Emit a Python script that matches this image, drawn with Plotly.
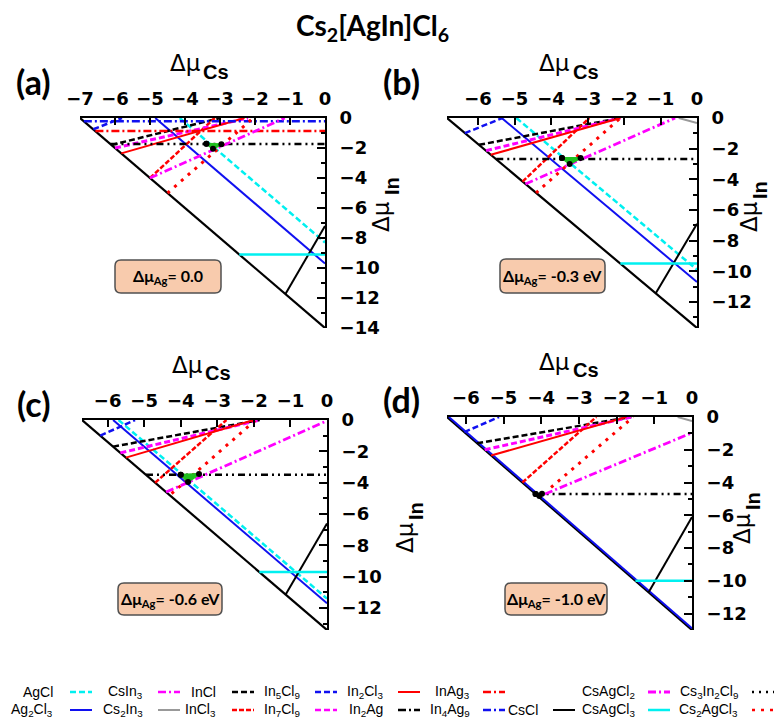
import plotly.graph_objects as go

W, H = 774, 721

# ---------------- data ----------------
PANEL_LABELS = ["(a)", "(b)", "(c)", "(d)"]
MU_AG_LABELS = ["0.0", "-0.3 eV", "-0.6 eV", "-1.0 eV"]
MU_CS_MIN = [-7.0, -6.85, -6.7, -6.5]
MU_IN_MIN = [-14.0, -13.7, -13.4, -13.0]

# boundary segments per panel (a, b, c, d): (x0, y0, x1, y1) in (dmu_Cs, dmu_In)
AgCl      = [(-4.15, 0, 0, -8.3), (-4.95, 0, 0, -9.9), (-5.7, 0, 0, -11.4), None]
Ag2Cl3    = [(-4.85, 0, 0, -9.7), (-5.35, 0, 0, -10.7), (-5.85, 0, 0, -11.7), (-6.45, 0, 0, -12.9)]
CsIn3     = [None, None, None, None]
Cs2In3    = [None, (-0.5, 0, 0, -0.33), None, (-0.38, 0, 0, -0.25)]
InCl      = [(-6.1, -1.8, -3.0, 0), (-5.97, -1.75, -2.1, 0), (-5.85, -1.7, -1.84, 0), (-5.7, -1.6, -1.61, 0)]
InCl3     = [(-5.0, -4.0, -3.15, 0), (-4.78, -4.15, -2.95, 0), (-4.7, -4.0, -2.75, 0), (-4.5, -4.0, -2.54, 0)]
In5Cl9    = [(-6.62, -0.75, -5.8, 0), (-6.36, -0.99, -5.33, 0), (-6.2, -1.0, -5.25, 0), (-6.04, -0.92, -5.12, 0)]
In7Cl9    = [(-6.0, -2.0, -2.2, 0), (-5.78, -2.13, -2.1, 0), (-5.65, -2.1, -1.84, 0), (-5.5, -2.0, -1.6, 0)]
In2Cl3    = [(-5.82, -2.36, -2.3, 0), (-5.65, -2.4, -2.1, 0), (-5.5, -2.4, -2.0, 0), (-5.33, -2.35, -1.74, 0)]
In2Ag     = [(-6.13, -1.73, 0, -1.73), (-5.5, -2.67, 0, -2.67), (-4.95, -3.5, 0, -3.5), (-4.15, -4.7, 0, -4.7)]
InAg3     = [(-6.56, -0.87, 0, -0.87), None, None, None]
In4Ag9    = [(-6.89, -0.22, 0, -0.22), None, None, None]
CsCl      = [(0, -7.2, -1.13, -11.73), (0, -6.9, -1.13, -11.43), (0, -6.6, -1.13, -11.13), (0, -6.1, -1.15, -10.7)]
CsAgCl2   = [(-5.0, -4.0, -1.15, 0), (-4.7, -4.3, -0.6, 0), (-4.4, -4.6, 0, -0.05), (-3.9, -4.7, 0, -0.96)]
CsAgCl3   = [(-2.45, -9.1, 0, -9.1), (-2.1, -9.5, 0, -9.5), (-1.85, -9.7, 0, -9.7), (-1.5, -10.0, 0, -10.0)]
Cs3In2Cl9 = [None, None, None, None]
Cs2AgCl3  = [(-4.5, -5.0, -2.05, 0), (-4.41, -4.88, -2.1, 0), (-4.25, -4.7, -1.95, 0), (-3.74, -4.3, -1.56, 0)]

# stable region vertices per panel
STABLE_X = [[-3.39, -3.2, -2.96], [-3.7, -3.49, -3.19], [-4.0, -3.8, -3.5], [-4.15, -4.05, -3.98]]
STABLE_Y = [[-1.71, -2.05, -1.75], [-2.61, -3.0, -2.61], [-3.5, -3.95, -3.45], [-4.7, -4.82, -4.68]]

SEGMENTS = {
    "AgCl": AgCl, "Ag2Cl3": Ag2Cl3, "CsIn3": CsIn3, "Cs2In3": Cs2In3,
    "InCl": InCl, "InCl3": InCl3, "In5Cl9": In5Cl9, "In7Cl9": In7Cl9,
    "In2Cl3": In2Cl3, "In2Ag": In2Ag, "InAg3": InAg3, "In4Ag9": In4Ag9,
    "CsCl": CsCl, "CsAgCl2": CsAgCl2, "CsAgCl3": CsAgCl3,
    "Cs3In2Cl9": Cs3In2Cl9, "Cs2AgCl3": Cs2AgCl3,
}

LABEL_HTML = {
    "AgCl": "AgCl", "Ag2Cl3": "Ag<sub>2</sub>Cl<sub>3</sub>", "CsIn3": "CsIn<sub>3</sub>",
    "Cs2In3": "Cs<sub>2</sub>In<sub>3</sub>", "InCl": "InCl", "InCl3": "InCl<sub>3</sub>",
    "In5Cl9": "In<sub>5</sub>Cl<sub>9</sub>", "In7Cl9": "In<sub>7</sub>Cl<sub>9</sub>",
    "In2Cl3": "In<sub>2</sub>Cl<sub>3</sub>", "In2Ag": "In<sub>2</sub>Ag",
    "InAg3": "InAg<sub>3</sub>", "In4Ag9": "In<sub>4</sub>Ag<sub>9</sub>", "CsCl": "CsCl",
    "CsAgCl2": "CsAgCl<sub>2</sub>", "CsAgCl3": "CsAgCl<sub>3</sub>",
    "Cs3In2Cl9": "Cs<sub>3</sub>In<sub>2</sub>Cl<sub>9</sub>", "Cs2AgCl3": "Cs<sub>2</sub>AgCl<sub>3</sub>",
}

LEGEND_ROW1 = ["AgCl", "CsIn3", "InCl", "In5Cl9", "In2Cl3", "InAg3", None, "CsAgCl2", "Cs3In2Cl9"]
LEGEND_ROW2 = ["Ag2Cl3", "Cs2In3", "InCl3", "In7Cl9", "In2Ag", "In4Ag9", "CsCl", "CsAgCl3", "Cs2AgCl3"]

# ---------------- styles ----------------
CYAN, BLUE, MAG, RED, BLK, GRAY = "#00F0F0", "#1010F0", "#FF00FF", "#FF0000", "#000000", "#999999"
DASH = "6px,3px"
DDOT = "8px,3px,2px,3px"
STYLE = {
    "AgCl": (CYAN, 2.5, DASH), "Ag2Cl3": (BLUE, 2, "solid"), "CsIn3": (MAG, 2.5, DDOT),
    "Cs2In3": (GRAY, 2, "solid"), "InCl": (BLK, 2.5, DASH), "InCl3": (RED, 2.5, "5px,2px"),
    "In5Cl9": (BLUE, 2.5, DASH), "In7Cl9": (MAG, 3, DASH), "In2Cl3": (RED, 2, "solid"),
    "In2Ag": (BLK, 2.5, "7px,4px,2px,4px,2px,4px"), "InAg3": (RED, 2.5, DDOT),
    "In4Ag9": (BLUE, 2.5, DDOT), "CsCl": (BLK, 2, "solid"), "CsAgCl2": (MAG, 2.8, DDOT),
    "CsAgCl3": (CYAN, 2.5, "solid"), "Cs3In2Cl9": (BLK, 3, "2px,5px"),
    "Cs2AgCl3": (RED, 3, "3px,6px"),
}
LEGEND_STYLE = dict(STYLE)
LEGEND_STYLE["In2Ag"] = (BLK, 2.5, DDOT)

DOM_X = [(80, 325), (447, 697), (82, 327), (447, 692)]
DOM_Y = [(118, 328), (118, 328), (420, 630), (417, 630)]

TICKFONT = dict(family="DejaVu Sans", size=18, color="black", weight="bold")


def px(x):
    return x / W


def py(y):
    return 1 - y / H


def note(text, x, y, font, **kw):
    d = dict(text=text, x=px(x), y=py(y), xref="paper", yref="paper", showarrow=False,
             xanchor="center", yanchor="middle", font=font)
    d.update(kw)
    return d


fig = go.Figure()
shapes = []
annos = []

for i in range(4):
    xn = "x" if i == 0 else f"x{i+1}"
    yn = "y" if i == 0 else f"y{i+1}"
    # diagonal boundary
    fig.add_trace(go.Scatter(x=[MU_CS_MIN[i], 0], y=[0, MU_IN_MIN[i]], mode="lines",
                             line=dict(color="black", width=2.2), xaxis=xn, yaxis=yn,
                             showlegend=False, hoverinfo="skip"))
    for name, segs in SEGMENTS.items():
        s = segs[i]
        if s is None:
            continue
        c, w, d = STYLE[name]
        fig.add_trace(go.Scatter(x=[s[0], s[2]], y=[s[1], s[3]], mode="lines",
                                 line=dict(color=c, width=w, dash=d), xaxis=xn, yaxis=yn,
                                 showlegend=False, name=name))
    fig.add_trace(go.Scatter(x=STABLE_X[i] + [STABLE_X[i][0]], y=STABLE_Y[i] + [STABLE_Y[i][0]],
                             mode="lines+markers", fill="toself", fillcolor="#20C020",
                             line=dict(color="#20C020", width=2),
                             marker=dict(color="black", size=6), xaxis=xn, yaxis=yn,
                             showlegend=False))

    (x0, x1), (y0, y1) = DOM_X[i], DOM_Y[i]
    fig.layout[f"xaxis{'' if i == 0 else i+1}"] = dict(
        domain=[px(x0), px(x1)], range=[MU_CS_MIN[i], 0], side="top", anchor=yn,
        showline=True, linecolor="black", linewidth=2, mirror=False, automargin=False,
        ticks="inside", ticklen=7, tickwidth=2, tickcolor="black",
        tickmode="linear", tick0=0, dtick=1, tickfont=TICKFONT,
        showgrid=False, zeroline=False, fixedrange=True, ticklabelstandoff=4)
    fig.layout[f"yaxis{'' if i == 0 else i+1}"] = dict(
        domain=[py(y1), py(y0)], range=[MU_IN_MIN[i], 0], side="right", anchor=xn,
        showline=True, linecolor="black", linewidth=2, mirror=False, automargin=False,
        ticks="inside", ticklen=8, tickwidth=2, tickcolor="black",
        tickmode="linear", tick0=0, dtick=2, tickfont=TICKFONT,
        minor=dict(ticks="inside", ticklen=4, tickwidth=2, tickcolor="black", dtick=1, showgrid=False),
        showgrid=False, zeroline=False, fixedrange=True, ticklabelstandoff=9)

# panel letters
LETTER_POS = [(33, 82), (401, 82), (33, 403), (401, 399)]
for lab, (lx, ly) in zip(PANEL_LABELS, LETTER_POS):
    annos.append(note(f"<b>{lab}</b>", lx, ly, dict(family="Lato", size=34, color="black")))

# x axis titles (Δμ_Cs)
XT_POS = [((185, 63), (216, 72)), ((554, 63), (586, 72)), ((187, 365), (218, 373)), ((554, 362), (586, 370))]
for (d, s) in XT_POS:
    annos.append(note("Δμ", d[0], d[1], dict(family="DejaVu Sans", size=23, color="black")))
    annos.append(note("<b>Cs</b>", s[0], s[1], dict(family="Liberation Sans", size=20, color="black")))

# y axis titles (Δμ_In), rotated
YT_POS = [((381, 217), (392, 186)), ((749, 217), (760, 190)), ((405, 538), (416, 511)), ((742, 529), (753, 501))]
for (d, s) in YT_POS:
    annos.append(note("Δμ", d[0], d[1], dict(family="DejaVu Sans", size=23, color="black"), textangle=-90))
    annos.append(note("<b>In</b>", s[0], s[1], dict(family="Liberation Sans", size=20, color="black"),
                      textangle=-90))

# title
annos.append(note("<b>Cs<sub>2</sub>[AgIn]Cl<sub>6</sub></b>", 372, 27, dict(family="Lato", size=28, color="black")))

# Δμ_Ag boxes
BOXES_PX = [(115, 260, 221, 293), (500, 259, 605, 293), (118, 583, 222, 615), (505, 583, 607, 615)]


def rounded_box(x0, y0, x1, y1, r=6):
    def P(x, y):
        return f"{px(x):.5f},{py(y):.5f}"
    return (f"M{P(x0 + r, y0)} L{P(x1 - r, y0)} Q{P(x1, y0)} {P(x1, y0 + r)} "
            f"L{P(x1, y1 - r)} Q{P(x1, y1)} {P(x1 - r, y1)} L{P(x0 + r, y1)} "
            f"Q{P(x0, y1)} {P(x0, y1 - r)} L{P(x0, y0 + r)} Q{P(x0, y0)} {P(x0 + r, y0)} Z")


for (bx0, by0, bx1, by1), lab in zip(BOXES_PX, MU_AG_LABELS):
    shapes.append(dict(type="path", path=rounded_box(bx0, by0, bx1, by1), xref="paper", yref="paper",
                       fillcolor="#F8CBAD", line=dict(color="#505050", width=1.5), layer="above"))
    annos.append(note(f"<b>Δμ<sub>Ag</sub>= {lab}</b>", (bx0 + bx1) / 2, (by0 + by1) / 2,
                      dict(family="Lato", size=16, color="black")))

# legend (label then sample, gnuplot style)
LBL_R = [55, 145, 218, 302, 385, 472, 540, 637, 740]
SMP_X0 = [70, 158, 232, 315, 398, 483, 553, 648, 752]
ROW_Y = [692, 710]
for row, names in zip(ROW_Y, [LEGEND_ROW1, LEGEND_ROW2]):
    for k, name in enumerate(names):
        if name is None:
            continue
        annos.append(note(LABEL_HTML[name], LBL_R[k], row,
                          dict(family="Liberation Sans", size=14, color="black"), xanchor="right"))
        c, w, d = LEGEND_STYLE[name]
        shapes.append(dict(type="line", xref="paper", yref="paper",
                           x0=px(SMP_X0[k]), x1=px(SMP_X0[k] + 22), y0=py(row), y1=py(row),
                           line=dict(color=c, width=w if w < 3 else 2.5, dash=d)))

fig.update_layout(width=W, height=H, margin=dict(l=0, r=0, t=0, b=0, autoexpand=False), autosize=False,
                  paper_bgcolor="white", plot_bgcolor="white", showlegend=False,
                  shapes=shapes, annotations=annos)

fig.write_html("out.html")
